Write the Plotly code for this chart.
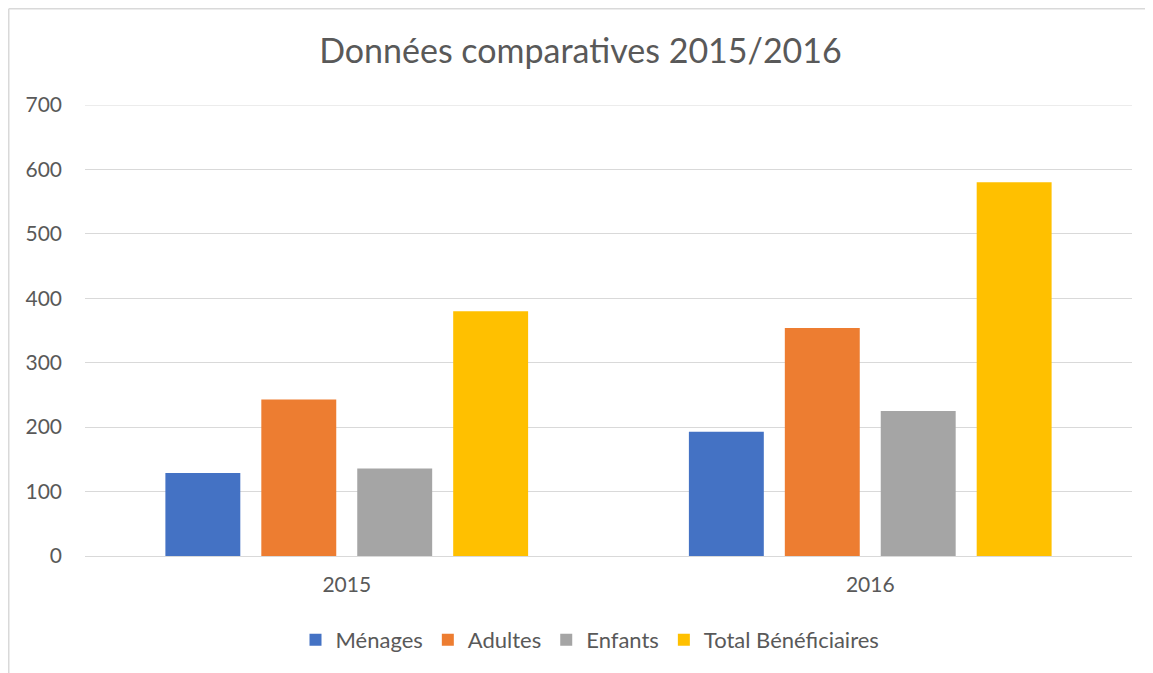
import plotly.graph_objects as go

years = ["2015", "2016"]
series_names = ["Ménages", "Adultes", "Enfants", "Total Bénéficiaires"]
menages = [129, 193]
adultes = [243, 354]
enfants = [136, 225]
total = [380, 580]
colors = ["#4472C4", "#ED7D31", "#A5A5A5", "#FFC000"]

OFF = 8  # page body margin
W, H = 1153 - OFF, 673 - OFF
L, R, T, B = 85 - OFF, 21, 105 - OFF, 117
pw = W - L - R
ph = H - T - B

fig = go.Figure()
for name, vals, col in zip(series_names, [menages, adultes, enfants, total], colors):
    fig.add_trace(go.Bar(x=years, y=vals, name=name, marker=dict(color=col, line=dict(width=0))))

font_fam = "Lato, 'Open Sans', sans-serif"
txt = "#595959"
grid = "#D9D9D9"

def px2paper_x(px):
    return (px - OFF - L) / pw

def py2paper_y(py):
    return (H - B - (py - OFF)) / ph

fig.update_layout(
    width=W, height=H,
    margin=dict(l=L, r=R, t=T, b=B),
    paper_bgcolor="white", plot_bgcolor="white",
    barmode="group", bargap=0.267, bargroupgap=0.219,
    title=dict(text="Données comparatives 2015/2016", x=0.5, xanchor="center",
               y=1 - (51 - OFF) / H, yanchor="middle",
               font=dict(family=font_fam, size=34, color=txt)),
    font=dict(family=font_fam, size=21, color=txt),
    xaxis=dict(showgrid=False, showline=False, ticks="", ticklabelstandoff=14,
               tickfont=dict(size=21, color=txt)),
    yaxis=dict(range=[0, 700], dtick=100, showgrid=True, gridcolor=grid, gridwidth=1,
               zeroline=True, zerolinecolor=grid, zerolinewidth=1,
               showline=False, ticks="", ticklabelstandoff=22,
               tickfont=dict(size=21, color=txt)),
    legend=dict(orientation="h", x=px2paper_x(590), xanchor="center", y=py2paper_y(640), yanchor="middle",
                font=dict(size=22, color=txt), traceorder="normal", itemwidth=30),
    showlegend=True,
)

# top gridline at 700
fig.add_shape(type="line", xref="paper", yref="y", x0=0, x1=1, y0=700, y1=700,
              line=dict(color=grid, width=1), layer="below")

# chart border (left and top visible)
fig.add_shape(type="line", xref="paper", yref="paper",
              x0=px2paper_x(8.75), x1=px2paper_x(8.75), y0=py2paper_y(8.75), y1=py2paper_y(673),
              line=dict(color=grid, width=1.5))
fig.add_shape(type="line", xref="paper", yref="paper",
              x0=px2paper_x(8.75), x1=px2paper_x(1153), y0=py2paper_y(8.75), y1=py2paper_y(8.75),
              line=dict(color=grid, width=1.5))

fig.write_html("out.html")
